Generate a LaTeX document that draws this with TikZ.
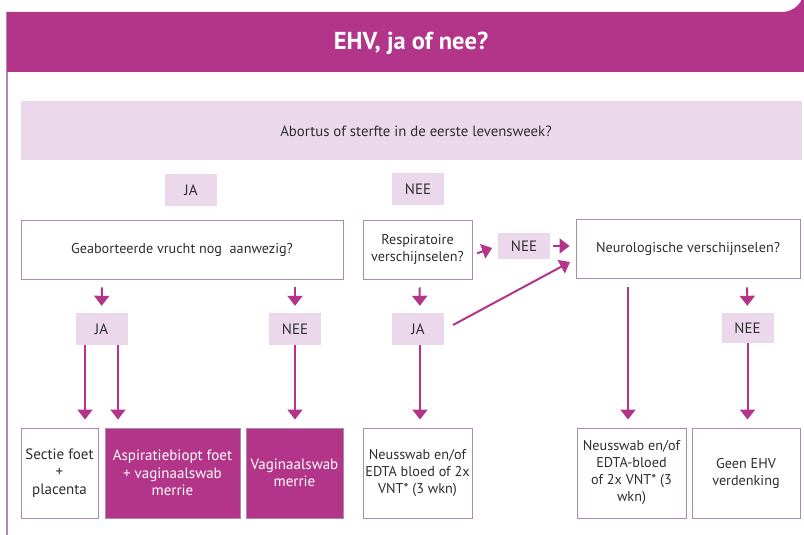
\documentclass[tikz,border=0pt]{standalone}
\usepackage{fontspec}
\setmainfont{PT Sans}
\usetikzlibrary{arrows.meta}
\definecolor{mag}{HTML}{B3358A}
\definecolor{lpink}{HTML}{EBD9EB}
\definecolor{bord}{HTML}{AC8AAF}
\definecolor{txt}{HTML}{2E2E2E}
\tikzset{
  qbox/.style={draw=bord, line width=0.9pt, fill=white, text=txt, align=center, inner sep=0pt, font=\fontsize{14.2}{17}\selectfont},
  rbox/.style={draw=bord, line width=0.9pt, fill=white, text=txt, align=center, inner sep=0pt, font=\fontsize{15}{17.5}\selectfont},
  fbox/.style={draw=bord, line width=0.9pt, fill=mag, text=white, align=center, inner sep=0pt, font=\fontsize{15}{17.5}\selectfont},
  lab/.style={fill=lpink, text=txt, inner sep=0pt, minimum width=52pt, minimum height=32pt, font=\fontsize{15}{17}\selectfont},
  arr/.style={draw=mag, line width=2pt, -{Triangle[width=15pt,length=10pt]}}
}
\begin{document}
\begin{tikzpicture}[x=1pt,y=-1pt]
\useasboundingbox (0,0) rectangle (804,535);
% frame
\draw[bord, line width=1.2pt] (7,12) -- (7,535);
\fill[mag] (7,12) -- (782,12) arc[start angle=90, end angle=0, radius=22] -- (804,72) -- (7,72) -- cycle;
\node[text=white, font=\fontsize{24.5}{28}\selectfont\bfseries] (title) at (411,43) {EHV, ja of nee?};
% band
\node[fill=lpink, minimum width=781pt, minimum height=59pt, inner sep=0pt] (band) at (411.5,130.5) {};
\node[text=txt, font=\fontsize{14.8}{17}\selectfont] (abort) at (416,131) {Abortus of sterfte in de eerste levensweek?};
% labels row 1
\node[lab] (ja1) at (191,190) {JA};
\node[lab] (nee1) at (418,189) {NEE};
% questions
\node[qbox, minimum width=322pt, minimum height=59pt] (q1) at (182,249.5) {Geaborteerde vrucht nog\ \ aanwezig?};
\node[qbox, minimum width=109pt, minimum height=59pt] (q2) at (417.5,249.5) {Respiratoire\\verschijnselen?};
\node[lab, minimum height=26pt] (nee2) at (524,246) {NEE};
\node[qbox, minimum width=224pt, minimum height=59pt] (q3) at (688,248.5) {Neurologische verschijnselen?};
% labels row 2
\node[lab] (ja2) at (101.5,329) {JA};
\node[lab] (nee3) at (295,329) {NEE};
\node[lab] (ja3) at (418,329) {JA};
\node[lab, minimum height=30pt] (nee4) at (747.5,328) {NEE};
% bottom boxes
\node[rbox, minimum width=77pt, minimum height=90pt] (b1) at (59.5,473) {Sectie foet\\+\\placenta};
\node[fbox, minimum width=135pt, minimum height=90pt] (b2) at (172.5,473) {Aspiratiebiopt foet\\+ vaginaalswab\\merrie};
\node[fbox, minimum width=97pt, minimum height=90pt] (b3) at (294.5,473) {Vaginaalswab\\merrie};
\node[qbox, minimum width=109pt, minimum height=90pt] (b4) at (417.5,473) {Neusswab en/of\\EDTA bloed of 2x\\VNT* (3 wkn)};
\node[qbox, minimum width=109pt, minimum height=90pt] (b5) at (631.5,473) {Neusswab en/of\\EDTA-bloed\\of 2x VNT* (3\\wkn)};
\node[qbox, minimum width=108pt, minimum height=90pt] (b6) at (746,473) {Geen EHV\\verdenking};
% short arrows
\draw[arr, shorten <=8pt, shorten >=7pt] ([xshift=-80pt]q1.south) -- (ja2.north);
\draw[arr, shorten <=8pt, shorten >=7pt] ([xshift=113pt]q1.south) -- (nee3.north);
\draw[arr, shorten <=8pt, shorten >=7pt] ([xshift=2pt]q2.south) -- ([xshift=2pt]ja3.north);
\draw[arr, shorten <=9pt, shorten >=7pt] ([xshift=59pt]q3.south) -- (nee4.north);
\draw[arr, shorten <=5pt, shorten >=6pt] ([yshift=-5.5pt]q2.east) -- (nee2.west);
\draw[arr, shorten <=3pt, shorten >=6pt] (nee2.east) -- ([yshift=2.5pt]q3.west);
\coordinate (d1) at (453,325);
\coordinate (d2) at (570,262);
\draw[arr] (d1) -- (d2);
% long arrows
\draw[arr, shorten >=8pt] ([xshift=-16.5pt]ja2.south) -- ([xshift=25.5pt]b1.north);
\draw[arr, shorten >=8pt] ([xshift=16.5pt]ja2.south) -- ([xshift=-54.5pt]b2.north);
\draw[arr, shorten >=8pt] (nee3.south) -- ([xshift=0.5pt]b3.north);
\draw[arr, shorten >=8pt] ([xshift=2pt]ja3.south) -- ([xshift=2.5pt]b4.north);
\draw[arr, shorten <=9pt, shorten >=8pt] ([xshift=-60pt]q3.south) -- ([xshift=-3.5pt]b5.north);
\draw[arr, shorten >=8pt] (nee4.south) -- ([xshift=1.5pt]b6.north);
\end{tikzpicture}
\end{document}
